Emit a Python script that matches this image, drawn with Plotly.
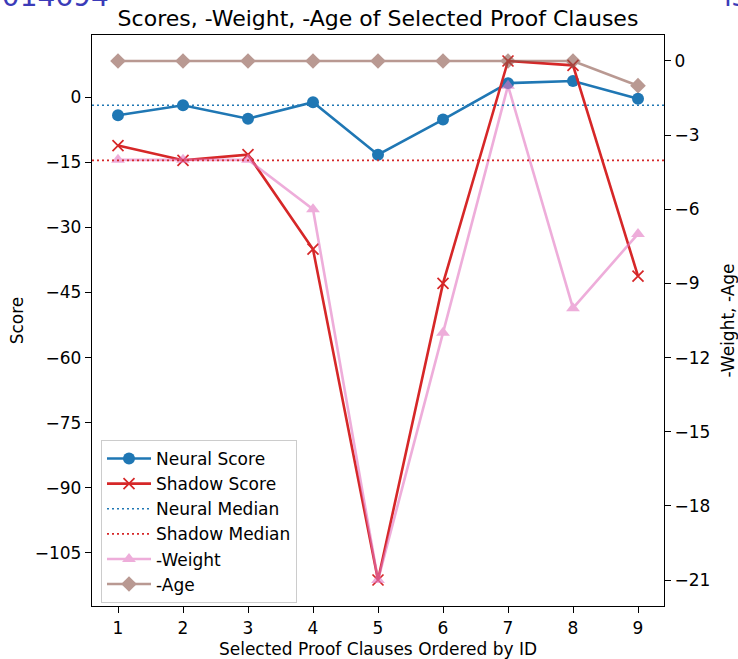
import numpy as np
import plotly.graph_objects as go

# ─── Data ─────────────────────────────────────────────────────────────────────
clause_ids   = [1, 2, 3, 4, 5, 6, 7, 8, 9]
neural_score = [-4.1, -1.8, -4.9, -1.1, -13.2, -5.1, 3.3, 3.8, -0.3]
shadow_score = [-11.1, -14.5, -13.2, -35.0, -111.3, -42.9, 8.4, 7.4, -41.2]
neg_weight   = [-4, -4, -4, -6, -21, -11, -1, -10, -7]
neg_age      = [0, 0, 0, 0, 0, 0, 0, 0, -1]

neural_median = float(np.median(neural_score))
shadow_median = float(np.median(shadow_score))

# ─── Theme (matplotlib tab10 look) ────────────────────────────────────────────
BLUE  = "#1f77b4"
RED   = "#d62728"
PINK  = "#e377c2"
BROWN = "#8c564b"
FONT  = "DejaVu Sans"
TICK_SIZE = 17

W, H = 738, 659
L, R, T, B = 92, 74, 35, 53

fig = go.Figure()

fig.add_trace(go.Scatter(
    x=clause_ids, y=neural_score, name="Neural Score",
    mode="lines+markers", line=dict(color=BLUE, width=2.6),
    marker=dict(symbol="circle", size=12, color=BLUE),
    legendrank=1, legendgroup="a",
))
fig.add_trace(go.Scatter(
    x=clause_ids, y=shadow_score, name="Shadow Score",
    mode="lines+markers", line=dict(color=RED, width=2.6),
    marker=dict(symbol="x-thin", size=11, color=RED, line=dict(color=RED, width=1.7)),
    legendrank=2, legendgroup="b",
))

# median lines (axhline style, in legend)
fig.add_hline(y=neural_median, line=dict(color=BLUE, width=1.7, dash="2px,3px"),
              showlegend=True, name="Neural Median", legendrank=3, legendgroup="c")
fig.add_hline(y=shadow_median, line=dict(color=RED, width=1.7, dash="2px,3px"),
              showlegend=True, name="Shadow Median", legendrank=4, legendgroup="d")

fig.add_trace(go.Scatter(
    x=clause_ids, y=neg_weight, name="-Weight", yaxis="y2",
    mode="lines+markers", line=dict(color=PINK, width=2.6),
    marker=dict(symbol="triangle-up", size=12, color=PINK),
    opacity=0.6, legendrank=5, legendgroup="e",
))
fig.add_trace(go.Scatter(
    x=clause_ids, y=neg_age, name="-Age", yaxis="y2",
    mode="lines+markers", line=dict(color=BROWN, width=2.6),
    marker=dict(symbol="diamond", size=12, color=BROWN),
    opacity=0.6, legendrank=6, legendgroup="f",
))


# pixel -> paper helpers
def px_x(v):
    return (v - L) / (W - L - R)


def px_y(v):
    return (H - B - v) / (H - T - B)


# clipped text bleeding in from the page this was cut out of
fig.add_annotation(text="2014694", x=px_x(-18), y=px_y(-3), xref="paper", yref="paper",
                   xanchor="left", yanchor="middle", showarrow=False,
                   font=dict(family=FONT, size=28, color="#3b3bb8"))
fig.add_annotation(text="is", x=px_x(722), y=px_y(-3), xref="paper", yref="paper",
                   xanchor="left", yanchor="middle", showarrow=False,
                   font=dict(family=FONT, size=28, color="#3b3bb8"))

axis_common = dict(
    showline=True, linecolor="black", linewidth=1.3,
    ticks="outside", ticklen=6, tickwidth=1.3, tickcolor="black",
    showgrid=False, zeroline=False, automargin=False,
    tickfont=dict(family=FONT, size=TICK_SIZE, color="black"),
)

fig.update_layout(
    width=W, height=H,
    paper_bgcolor="white", plot_bgcolor="white",
    font=dict(family=FONT, color="black", size=TICK_SIZE),
    margin=dict(l=L, r=R, t=T, b=B, autoexpand=False),
    title=dict(text="Scores, -Weight, -Age of Selected Proof Clauses",
               xref="paper", x=0.5, xanchor="center",
               y=1 - 18 / H, yanchor="middle",
               font=dict(family=FONT, size=22, color="black")),
    xaxis=dict(**axis_common, range=[0.6, 9.4], tickvals=clause_ids, mirror=True,
               title=dict(text="Selected Proof Clauses Ordered by ID", standoff=12,
                          font=dict(family=FONT, size=TICK_SIZE))),
    yaxis=dict(**axis_common, range=[-117.3, 14.4], dtick=15, tick0=0,
               title=dict(text="Score", standoff=6, font=dict(family=FONT, size=TICK_SIZE))),
    yaxis2=dict(**axis_common, range=[-22.05, 1.05], dtick=3, tick0=0,
                overlaying="y", side="right",
                title=dict(text="-Weight, -Age", standoff=16,
                           font=dict(family=FONT, size=TICK_SIZE))),
    legend=dict(x=px_x(101), y=px_y(440), xanchor="left", yanchor="top",
                bgcolor="rgba(255,255,255,0.8)", bordercolor="#cccccc", borderwidth=1,
                font=dict(family=FONT, size=TICK_SIZE), tracegroupgap=0,
                itemwidth=44),
    showlegend=True,
)

# page body has an 8px default margin; drop it so the figure sits at (0, 0)
fig.write_html("out.html", config={"displayModeBar": False},
               post_script="document.body.style.margin = '0';")
